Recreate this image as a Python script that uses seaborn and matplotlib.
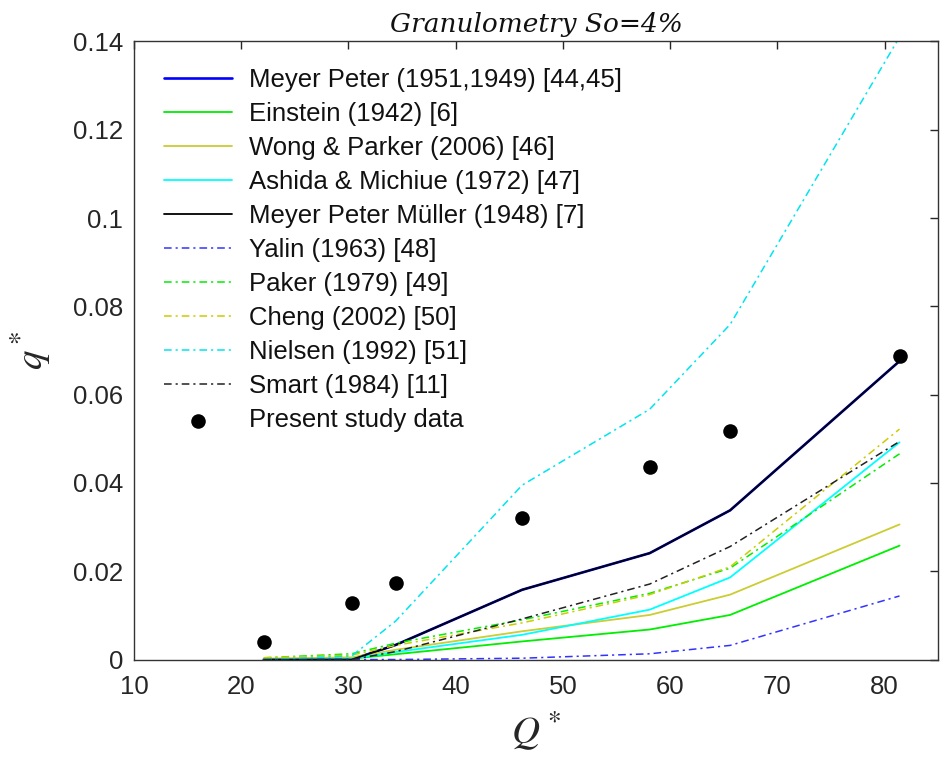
import matplotlib
matplotlib.use("Agg")
import matplotlib.pyplot as plt
import seaborn as sns
import pandas as pd

# ---- data ----
Q_star = [22.1, 30.3, 34.4, 46.2, 58.1, 65.6, 81.4]
meyer_peter = [0.0, 0.0, 0.0033, 0.0158, 0.0241, 0.0338, 0.0676]
einstein = [0.0, 0.0002, 0.0012, 0.0041, 0.0068, 0.0101, 0.0258]
wong_parker = [0.0002, 0.0005, 0.0022, 0.0064, 0.0101, 0.0147, 0.0306]
ashida_michiue = [0.0, 0.0002, 0.0017, 0.0056, 0.0113, 0.0186, 0.0492]
mpm = [0.0, 0.0, 0.0033, 0.0158, 0.0241, 0.0338, 0.0676]
yalin = [0.0, 0.0, 0.0, 0.0003, 0.0013, 0.0032, 0.0144]
paker = [0.0004, 0.0013, 0.0037, 0.0090, 0.0150, 0.0207, 0.0466]
cheng = [0.0004, 0.0010, 0.0032, 0.0083, 0.0147, 0.0210, 0.0522]
nielsen = [0.0, 0.0008, 0.0087, 0.0395, 0.0567, 0.0759, 0.1410]
smart = [0.0, 0.0, 0.0018, 0.0092, 0.0171, 0.0256, 0.0494]
present_study = [0.0040, 0.0128, 0.0174, 0.0320, 0.0437, 0.0517, 0.0688]

labels = ["Meyer Peter (1951,1949) [44,45]", "Einstein (1942) [6]",
          "Wong & Parker (2006) [46]", "Ashida & Michiue (1972) [47]",
          "Meyer Peter Müller (1948) [7]", "Yalin (1963) [48]",
          "Paker (1979) [49]", "Cheng (2002) [50]", "Nielsen (1992) [51]",
          "Smart (1984) [11]"]
series = [meyer_peter, einstein, wong_parker, ashida_michiue, mpm,
          yalin, paker, cheng, nielsen, smart]
x_ticks = [10, 20, 30, 40, 50, 60, 70, 80]
y_ticks = [0, 0.02, 0.04, 0.06, 0.08, 0.1, 0.12, 0.14]
y_ticklabels = ["0", "0.02", "0.04", "0.06", "0.08", "0.1", "0.12", "0.14"]

# ---- styles ----
colors = ["#0000ff", "#00ee00", "#cccc33", "#00ffff", "#000000",
          "#3333ff", "#00ee00", "#cccc00", "#00e5ee", "#222222"]
dashdot = (0, (5, 2.6, 1.4, 2.6))
styles = ["-", "-", "-", "-", "-", dashdot, dashdot, dashdot, dashdot, dashdot]
widths = [1.9, 1.3, 1.3, 1.3, 1.3, 1.1, 1.1, 1.1, 1.1, 1.1]

sns.set_theme(style="white")
plt.rcParams["font.family"] = ["Liberation Sans", "DejaVu Sans"]
plt.rcParams["mathtext.fontset"] = "stix"

fig = plt.figure(figsize=(9.4, 7.6), dpi=100)
ax = fig.add_axes([0.1426, 0.1322, 0.998 - 0.1426, 0.9454 - 0.1322])

for lab, ys, c, ls, lw in zip(labels, series, colors, styles, widths):
    df = pd.DataFrame({"Q": Q_star, "q": ys})
    sns.lineplot(data=df, x="Q", y="q", ax=ax, color=c, linestyle=ls,
                 linewidth=lw, label=lab, estimator=None, sort=False)

dfp = pd.DataFrame({"Q": Q_star, "q": present_study})
sns.scatterplot(data=dfp, x="Q", y="q", ax=ax, color="black", s=110,
                edgecolor="black", linewidth=0, label="Present study data",
                zorder=5)

ax.set_xlim(10, 85)
ax.set_ylim(0, 0.14)
ax.set_xticks(x_ticks)
ax.set_yticks(y_ticks)
ax.set_yticklabels(y_ticklabels)
ax.tick_params(direction="in", length=6, width=1, colors="#262626",
               labelsize=18.5, top=True, right=True, pad=8)
ax.tick_params(axis="x", pad=11)
for s in ax.spines.values():
    s.set_color("#333333")
    s.set_linewidth(1.0)

ax.set_xlabel(r"$Q^*$", fontsize=28, labelpad=8, color="#262626")
ax.set_ylabel(r"$q^*$", fontsize=28, labelpad=14, color="#262626")
ax.set_title("Granulometry So=4%", fontsize=19, style="italic",
             family="DejaVu Serif", pad=7, color="#111111")

leg = ax.legend(loc="upper left", bbox_to_anchor=(0.037, 0.957),
                frameon=False, fontsize=18.5, handlelength=2.65,
                handletextpad=0.66, labelspacing=0.39, borderpad=0,
                borderaxespad=0)
for t in leg.get_texts():
    t.set_color("#111111")

fig.savefig("out.png", dpi=100)
